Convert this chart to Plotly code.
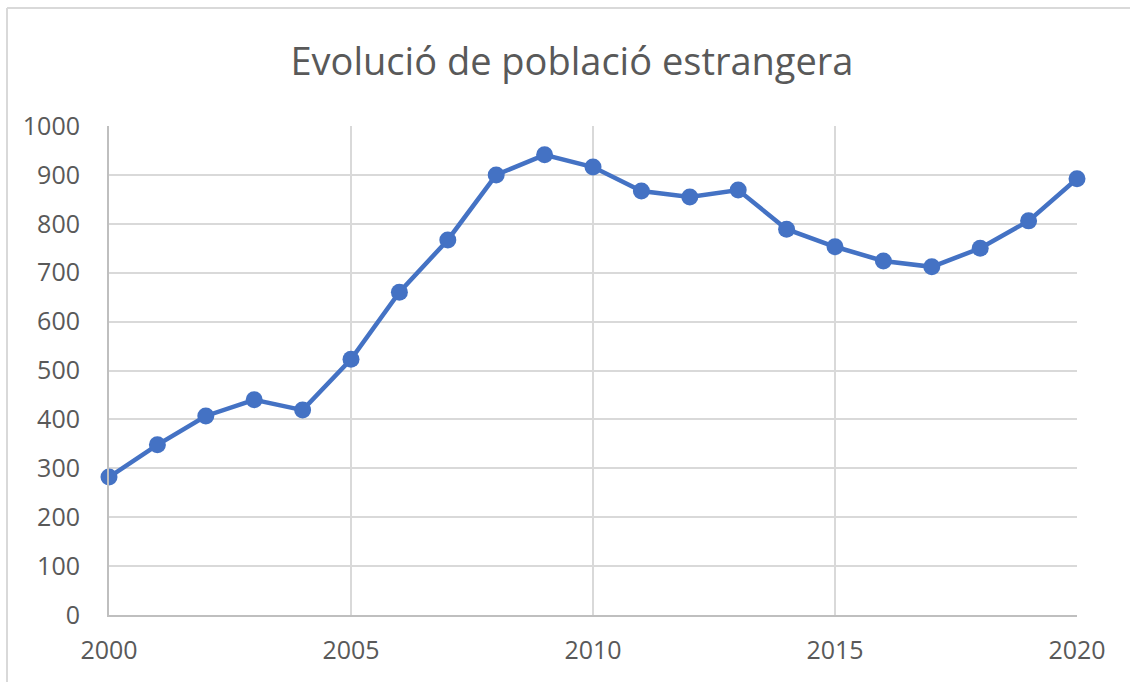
import plotly.graph_objects as go

years = list(range(2000, 2021))
values = [282, 348, 407, 440, 419, 523, 660, 767, 900, 941, 916, 867, 855, 869, 789, 753, 724, 712, 750, 806, 892]
x_ticks = [2000, 2005, 2010, 2015, 2020]
y_ticks = list(range(0, 1001, 100))
title_text = "Evolució de població estrangera"

W, H = 1130, 682
L, R, T, B = 109, 1077, 126, 615

fig = go.Figure()
fig.add_trace(go.Scatter(
    x=years, y=values, mode="lines+markers",
    line=dict(color="#4472C4", width=4.5),
    marker=dict(color="#4472C4", size=17),
    cliponaxis=False, showlegend=False, hoverinfo="x+y",
))

bx = -(L - 7) / (R - L)
by = 1 + (T - 8) / (B - T)

fig.update_layout(
    width=W, height=H,
    paper_bgcolor="white", plot_bgcolor="white",
    margin=dict(l=L, r=W - R, t=T, b=H - B, pad=0),
    font=dict(family="Open Sans, sans-serif", color="#595959"),
    title=dict(text=title_text, x=572 / W, xanchor="center", y=1 - 62 / H, yanchor="middle",
               font=dict(size=38, color="#595959", family="Open Sans, sans-serif")),
    xaxis=dict(range=[2000, 2020], tickvals=x_ticks, ticks="", showgrid=True, gridcolor="#d9d9d9", gridwidth=2,
               showline=True, linecolor="#bfbfbf", linewidth=2, mirror=False, zeroline=False,
               tickfont=dict(size=25, color="#595959"), ticklabelstandoff=12, fixedrange=True),
    yaxis=dict(range=[0, 1000], tickvals=y_ticks, ticks="", showgrid=True, gridcolor="#d9d9d9", gridwidth=2,
               showline=True, linecolor="#bfbfbf", linewidth=2, zeroline=False,
               tickfont=dict(size=25, color="#595959"), ticklabelstandoff=22, fixedrange=True),
    shapes=[
        dict(type="line", xref="paper", yref="paper", x0=bx, x1=1.2,
             y0=by, y1=by, line=dict(color="#d9d9d9", width=2)),
        dict(type="line", xref="paper", yref="paper", x0=bx, x1=bx,
             y0=by, y1=-0.2, line=dict(color="#d9d9d9", width=2)),
    ],
)

fig.write_html("out.html", post_script="document.body.style.margin='0';",
               config={"displayModeBar": False})
